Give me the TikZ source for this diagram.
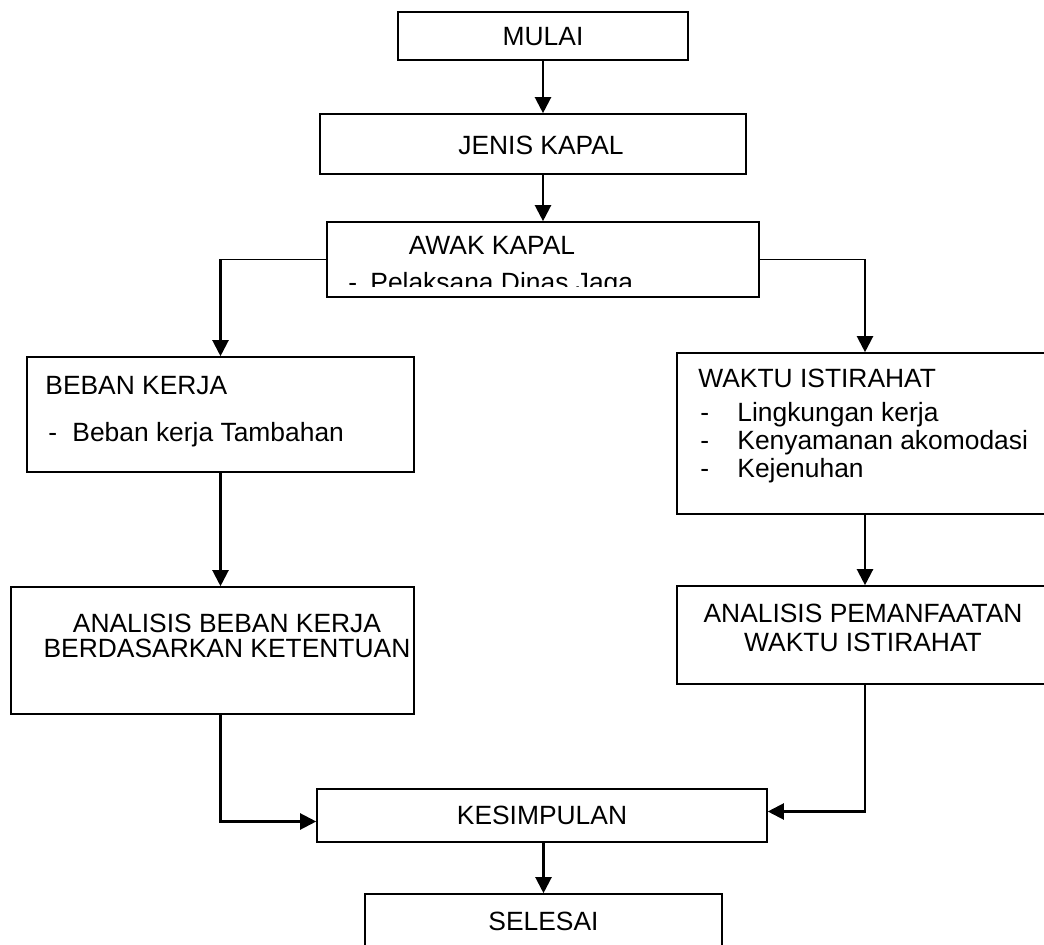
\documentclass[tikz,border=0pt]{standalone}
\usepackage{fontspec}
\setmainfont{Liberation Sans}
\usetikzlibrary{arrows.meta}

\begin{document}
\begin{tikzpicture}[
  x=0.5pt, y=-0.5pt,
  lbl/.style={font=\fontsize{13.2}{15}\selectfont, text height=9.4pt,
    text depth=0pt, inner sep=0pt},
  box/.style={lbl, rectangle, draw, line width=0.8pt},
  arr/.style={-{Triangle[length=8pt,width=8pt]}, line width=1.1pt},
  lin/.style={line width=0.7pt}
]
\useasboundingbox (0,0) rectangle (1044,945);

% boxes
\node[box, minimum width=145pt, minimum height=24pt] (mulai) at (543,36) {MULAI};
\node[box, minimum width=213pt, minimum height=30pt] (jenis) at (533,144) {};
\node[lbl] (tjenis) at (541,145) {JENIS KAPAL};
\node[box, minimum width=216pt, minimum height=37.5pt] (awak) at (543,259.5) {};
\node[box, minimum width=193.5pt, minimum height=57.5pt] (beban) at (220.5,414.5) {};
\node[box, minimum width=188pt, minimum height=80.5pt] (waktu) at (865,433.5) {};
\node[box, minimum width=201.5pt, minimum height=63.5pt] (anab) at (212.5,650.5) {};
\node[box, minimum width=188pt, minimum height=49pt] (anap) at (865,635) {};
\node[box, minimum width=225pt, minimum height=26.5pt] (kesim) at (542,815.5) {KESIMPULAN};
\node[box, minimum width=178.5pt, minimum height=27pt] (selesai) at (543.5,921) {SELESAI};

% texts
\node[lbl] (tawak) at (492,245) {AWAK KAPAL};
\begin{scope}
  \clip (awak.north west) rectangle ([yshift=5.5pt]awak.south east);
  \node[lbl, anchor=west] (tjaga) at (348,282) {\makebox[11pt][l]{-}Pelaksana Dinas Jaga};
\end{scope}
\node[lbl, anchor=west] (tbeban) at (45,385) {BEBAN KERJA};
\node[lbl, anchor=west] (ttambah) at (48,432) {\makebox[12pt][l]{-}Beban kerja Tambahan};
\node[lbl, anchor=west] (twaktu) at (698,378) {WAKTU ISTIRAHAT};
\node[lbl, anchor=west] (tling) at (700,412) {\makebox[18.5pt][l]{-}Lingkungan kerja};
\node[lbl, anchor=west] (tkeny) at (700,440) {\makebox[18.5pt][l]{-}Kenyamanan akomodasi};
\node[lbl, anchor=west] (tjenuh) at (700,468) {\makebox[18.5pt][l]{-}Kejenuhan};
\node[lbl] (tanab1) at (227,623) {ANALISIS BEBAN KERJA};
\node[lbl] (tanab2) at (227,648) {BERDASARKAN KETENTUAN};
\node[lbl] (tanap1) at (863,613) {ANALISIS PEMANFAATAN};
\node[lbl] (tanap2) at (863,642) {WAKTU ISTIRAHAT};

% connectors
\coordinate (lbend) at (awak.west -| beban.north);
\coordinate (rbend) at (awak.east -| waktu.north);
\draw[arr] (mulai.south) -- (mulai.south |- jenis.north);
\draw[arr] (jenis.south -| awak.north) -- (awak.north);
\draw[lin] (awak.west) -- (lbend);
\draw[arr] (lbend) -- (beban.north);
\draw[lin] (awak.east) -- (rbend);
\draw[arr] (rbend) -- (waktu.north);
\draw[arr] (beban.south) -- (beban.south |- anab.north);
\draw[arr] (waktu.south) -- (anap.north);
\draw[arr] (beban.south |- anab.south) |- ([yshift=-3pt]kesim.west);
\draw[arr] (anap.south) |- ([yshift=2pt]kesim.east);
\draw[arr] (kesim.south -| selesai.north) -- (selesai.north);
\end{tikzpicture}
\end{document}
